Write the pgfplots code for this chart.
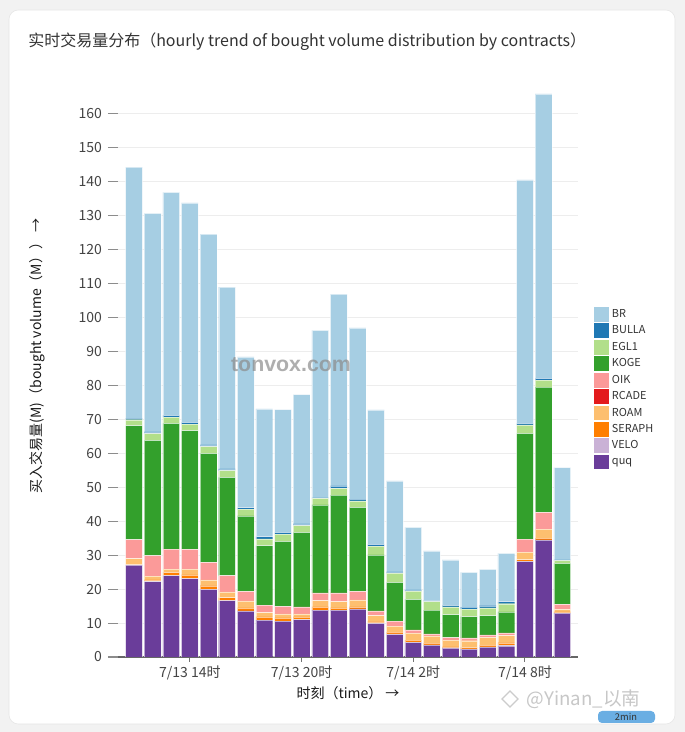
\documentclass[border=0pt]{standalone}
\usepackage{pgfplots}
\pgfplotsset{compat=1.18}
\usepackage{pgfplotstable}
\usepackage{fontspec}
\setmainfont{Noto Sans CJK SC}
\newfontfamily\wmfont{Liberation Sans}
\definecolor{cBR}{HTML}{A6CEE3}
\definecolor{cBULLA}{HTML}{1F78B4}
\definecolor{cEGL}{HTML}{B2DF8A}
\definecolor{cKOGE}{HTML}{33A02C}
\definecolor{cOIK}{HTML}{FB9A99}
\definecolor{cRCADE}{HTML}{E31A1C}
\definecolor{cROAM}{HTML}{FDBF6F}
\definecolor{cSERAPH}{HTML}{FF7F00}
\definecolor{cVELO}{HTML}{CAB2D6}
\definecolor{cquq}{HTML}{6A3D9A}
\definecolor{txt}{HTML}{333333}
\definecolor{tick}{HTML}{444444}

\pgfplotstableread{
x  quq  VELO SERAPH ROAM RCADE OIK KOGE EGL1 BULLA BR
0  27.1 0    0.1    1.8  0     5.6 33.6 1.7  0.5   73.9
1  22.2 0.1  0.4    1.1  0     6.1 33.9 2.0  0.5   64.4
2  24.0 0    0.9    1.0  0     5.9 37.0 1.9  0.5   65.7
3  23.1 0    1.1    1.7  0     5.8 35.0 1.9  0.5   64.7
4  19.9 0    1.1    1.7  0     5.2 32.1 2.0  0.5   62.1
5  16.6 0    0.9    1.7  0     4.8 28.9 2.0  0.5   53.6
6  13.6 0    0.9    2.0  0     2.8 22.3 2.0  0.4   44.4
7  10.9 0    0.9    1.3  0     2.2 17.5 2.0  0.7   37.6
8  10.6 0    0.9    1.2  0     2.2 19.2 2.1  0.5   36.2
9  11.0 0    0.8    0.9  0     2.1 21.9 2.0  0.5   38.1
10 13.8 0    1.0    1.8  0     2.3 25.9 1.9  0.2   49.3
11 13.8 0    0.7    1.8  0     2.6 28.8 2.0  0.7   56.5
12 14.2 0    0.6    2.0  0     2.5 24.8 1.9  0.5   50.5
13 9.9  0    0.5    1.8  0     1.4 16.5 2.6  0.5   39.6
14 6.7  0.1  0.5    1.8  0     1.5 11.4 2.7  0.4   26.8
15 4.3  0.1  0.6    2.0  0     1.0 9.0  2.4  0.4   18.4
16 3.5  0.1  0.5    2.1  0     0.6 7.0  2.5  0.4   14.6
17 2.6  0.1  0.3    2.0  0     0.7 6.8  2.3  0.4   13.4
18 2.3  0.1  0.4    2.0  0     0.8 6.3  2.2  0.6   10.2
19 2.9  0.1  0.5    2.3  0     0.7 5.7  2.3  0.6   10.7
20 3.3  0.1  0.8    2.1  0     0.8 6.2  2.4  0.6   14.2
21 28.2 0    0.5    2.2  0     3.8 31.2 2.5  0.4   71.8
22 34.5 0    0.5    2.7  0     4.9 36.9 2.1  0.5   83.8
23 12.9 0    0.4    0.7  0     1.5 12.1 0.8  0.2   27.2
}\datatable

\begin{document}
\begin{tikzpicture}
\begin{scope}[x=0.75pt,y=0.75pt]
  \fill[black!5] (0,0) rectangle (685,732);
  \fill[white, rounded corners=7] (9,8) rectangle (675,722);
  \draw[black!10, rounded corners=7] (9,8) rectangle (675,722);
  \node[anchor=west, inner sep=0pt, text=txt, font=\fontsize{12}{14}\selectfont] at (28,690)
    {实时交易量分布（hourly trend of bought volume distribution by contracts）};
  \node[rotate=90, inner sep=0pt, text=black!90, font=\fontsize{10.5}{12}\selectfont] at (37,376)
    {买入交易量(M)（bought volume（M））\ →};
  \node[inner sep=0pt, text=black!90, font=\fontsize{10.5}{12}\selectfont] at (348,39)
    {时刻（time）\ →};
\end{scope}
\begin{axis}[
  at={(88.5pt,56.25pt)}, anchor=south west,
  scale only axis, width=345pt, height=437.85pt,
  ybar stacked, bar width=0.9,
  xmin=-0.86, xmax=23.85, ymin=0, ymax=172,
  axis x line*=bottom, axis y line*=left,
  y axis line style={draw=none},
  x axis line style={draw=black!60, line width=1pt, -},
  xtick={3,9,15,21},
  xticklabels={7/13 14时,7/13 20时,7/14 2时,7/14 8时},
  ytick={0,10,...,160},
  tick align=outside,
  major tick length=7.5pt,
  xtick style={draw=black!55, line width=0.8pt, /pgfplots/major tick length=3.5pt},
  ytick style={draw=black!45, line width=0.8pt},
  ymajorgrids,
  grid style={draw=black!7, line width=0.75pt},
  tick label style={font=\fontsize{10.5}{12}\selectfont, text=tick},
  yticklabel style={xshift=-1pt},
  xticklabel style={yshift=4.5pt},
  /pgf/number format/assume math mode=true,
  reverse legend,
  legend style={at={(1.035,0.6)}, anchor=north west, draw=none, fill=none,
    font=\fontsize{8.2}{9}\selectfont, text=txt, row sep=0.7pt, inner sep=0pt,
    cells={anchor=west}},
  legend image code/.code={\path[#1,draw=none] (0pt,-5.6pt) rectangle (11.2pt,5.6pt);},
  every axis plot/.append style={draw=white, draw opacity=0.55, line width=0.3pt},
]
\addplot[fill=cquq]    table[x=x,y=quq]    \datatable; \addlegendentry{quq}
\addplot[fill=cVELO]   table[x=x,y=VELO]   \datatable; \addlegendentry{VELO}
\addplot[fill=cSERAPH] table[x=x,y=SERAPH] \datatable; \addlegendentry{SERAPH}
\addplot[fill=cROAM]   table[x=x,y=ROAM]   \datatable; \addlegendentry{ROAM}
\addplot[fill=cRCADE]  table[x=x,y=RCADE]  \datatable; \addlegendentry{RCADE}
\addplot[fill=cOIK]    table[x=x,y=OIK]    \datatable; \addlegendentry{OIK}
\addplot[fill=cKOGE]   table[x=x,y=KOGE]   \datatable; \addlegendentry{KOGE}
\addplot[fill=cEGL]    table[x=x,y=EGL1]   \datatable; \addlegendentry{EGL1}
\addplot[fill=cBULLA]  table[x=x,y=BULLA]  \datatable; \addlegendentry{BULLA}
\addplot[fill=cBR]     table[x=x,y=BR]     \datatable; \addlegendentry{BR}
\end{axis}
\begin{scope}[x=0.75pt,y=0.75pt]
  \node[text=black!45, opacity=0.7, font=\wmfont\bfseries\fontsize{16}{18}\selectfont] at (291,367) {tonvox.com};
  \node[anchor=west, text=black!22, font=\fontsize{14}{16}\selectfont] at (522,33) {@Yinan\_以南};
  \draw[black!20, line width=1pt] (502,33) -- (510,41) -- (518,33) -- (510,25) -- cycle;
  \fill[cyan!70!blue!60, rounded corners=3] (598,9) rectangle (655,21);
  \node[text=black!80, font=\fontsize{7}{8}\selectfont, inner sep=0pt] at (626,15) {2min};
\end{scope}
\end{tikzpicture}
\end{document}
